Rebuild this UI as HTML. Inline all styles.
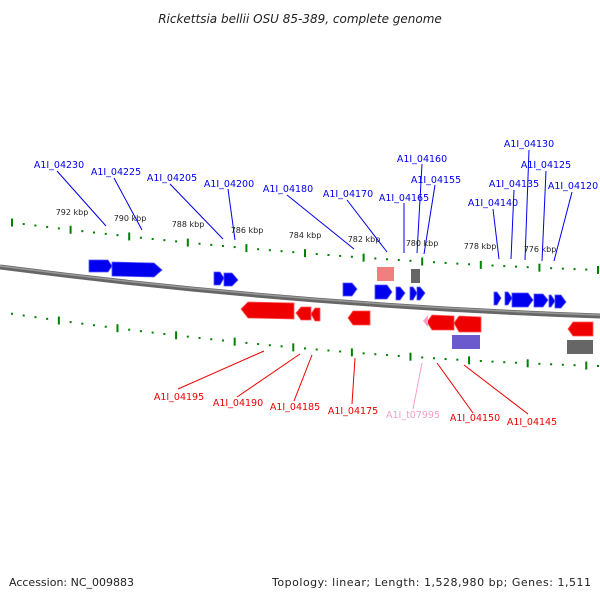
<!DOCTYPE html>
<html><head><meta charset="utf-8"><style>
html,body{margin:0;padding:0;background:#fff;width:600px;height:600px;overflow:hidden}
svg{display:block;font-family:"DejaVu Sans","Liberation Sans",sans-serif}
</style></head><body>
<svg id="s" width="600" height="600" viewBox="0 0 600 600" xmlns="http://www.w3.org/2000/svg">
<text x="300" y="23" font-size="12" font-style="italic" text-anchor="middle" fill="#222">Rickettsia bellii OSU 85-389, complete genome</text>
<path d="M0,267 Q300,306 600,316" stroke="#666" stroke-width="5" fill="none"/>
<path d="M0,266 Q300,305 600,315" stroke="#999" stroke-width="1.5" fill="none"/>
<g id="ticks"></g>
<g font-size="8" fill="#222" text-anchor="middle">
<text x="72" y="215">792 kbp</text><text x="130" y="221">790 kbp</text><text x="188" y="227">788 kbp</text><text x="247" y="233">786 kbp</text><text x="305" y="238">784 kbp</text><text x="364" y="242">782 kbp</text><text x="422" y="246">780 kbp</text><text x="480" y="249">778 kbp</text><text x="540" y="252">776 kbp</text>
</g>
<!-- blue genes -->
<g fill="#0000ee" stroke="#5555ff" stroke-width="0.8">
<polygon points="89,260 108,260 112,266 108,272 89,272"/>
<polygon points="112,262 154,263 162,270 154,277 112,276"/>
<polygon points="214,272 220,272 224,278 220,285 214,285"/>
<polygon points="224,273 232,273 238,280 232,286 224,286"/>
<polygon points="343,283 352,283 357,289 352,296 343,296"/>
<polygon points="375,285 387,285 392,292 387,299 375,299"/>
<polygon points="396,287 400,287 405,293 400,300 396,300"/>
<polygon points="410,287 413,287 417,293 413,300 410,300"/>
<polygon points="417,287 420,287 425,293 420,300 417,300"/>
<polygon points="494,292 497,292 501,298 497,305 494,305"/>
<polygon points="505,292 508,292 512,298 508,305 505,305"/>
<polygon points="512,293 528,293 533,300 528,307 512,307"/>
<polygon points="534,294 543,294 548,300 543,307 534,307"/>
<polygon points="549,295 551,295 555,301 551,307 549,307"/>
<polygon points="555,295 561,295 566,302 561,308 555,308"/>
</g>
<rect x="377" y="267" width="17" height="14" fill="#f08080"/>
<rect x="411" y="269" width="9" height="14" fill="#666"/>
<!-- red genes -->
<g fill="#ee0000" stroke="#ff5555" stroke-width="0.8">
<polygon points="241,309 248,302 294,303 294,319 248,318"/>
<polygon points="296,313 301,307 311,307 311,320 301,320"/>
<polygon points="311,314 315,308 320,308 320,321 315,321"/>
<polygon points="348,318 353,311 370,311 370,325 353,325"/>
<polygon points="427,322 432,315 454,316 454,330 432,330"/>
<polygon points="454,323 459,316 481,317 481,332 459,332"/>
<polygon points="568,329 573,322 593,322 593,336 573,336"/>
</g>
<polygon points="423,321 428,315 428,327" fill="#f4a0c8"/>
<rect x="452" y="335" width="28" height="14" fill="#6a5acd"/>
<rect x="567" y="340" width="26" height="14" fill="#666"/>
<!-- blue labels -->
<g stroke="#0000ee" stroke-width="1">
<line x1="57" y1="171" x2="106" y2="226"/>
<line x1="114" y1="178" x2="142" y2="230"/>
<line x1="170" y1="184" x2="223" y2="239"/>
<line x1="228" y1="189" x2="235" y2="240"/>
<line x1="287" y1="195" x2="354" y2="249"/>
<line x1="347" y1="200" x2="387" y2="252"/>
<line x1="404" y1="203" x2="404" y2="253"/>
<line x1="422" y1="164" x2="417" y2="253"/>
<line x1="435" y1="185" x2="424" y2="254"/>
<line x1="493" y1="209" x2="499" y2="259"/>
<line x1="514" y1="190" x2="511" y2="259"/>
<line x1="529" y1="150" x2="525" y2="260"/>
<line x1="546" y1="171" x2="542" y2="261"/>
<line x1="572" y1="192" x2="554" y2="261"/>
</g>
<g font-size="9.5" fill="#0000ee" text-anchor="middle">
<text x="59" y="168">A1I_04230</text><text x="116" y="175">A1I_04225</text><text x="172" y="181">A1I_04205</text><text x="229" y="187">A1I_04200</text><text x="288" y="192">A1I_04180</text><text x="348" y="197">A1I_04170</text><text x="404" y="201">A1I_04165</text><text x="422" y="162">A1I_04160</text><text x="436" y="183">A1I_04155</text><text x="493" y="206">A1I_04140</text><text x="514" y="187">A1I_04135</text><text x="529" y="147">A1I_04130</text><text x="546" y="168">A1I_04125</text><text x="573" y="189">A1I_04120</text>
</g>
<!-- red labels -->
<g stroke="#ee0000" stroke-width="1">
<line x1="264" y1="351" x2="178" y2="389"/>
<line x1="300" y1="354" x2="237" y2="397"/>
<line x1="312" y1="355" x2="294" y2="401"/>
<line x1="355" y1="358" x2="352" y2="404"/>
<line x1="437" y1="363" x2="473" y2="413"/>
<line x1="464" y1="365" x2="528" y2="414"/>
</g>
<line x1="422" y1="363" x2="413" y2="409" stroke="#f4a0c8"/>
<g font-size="9.5" fill="#ee0000" text-anchor="middle">
<text x="179" y="400">A1I_04195</text><text x="238" y="406">A1I_04190</text><text x="295" y="410">A1I_04185</text><text x="353" y="414">A1I_04175</text><text x="475" y="421">A1I_04150</text><text x="532" y="425">A1I_04145</text>
<text x="413" y="418" fill="#f4a0c8">A1I_t07995</text>
</g>
<text x="9" y="586" font-size="11" fill="#222">Accession: NC_009883</text>
<text x="591" y="586" font-size="11" fill="#222" text-anchor="end" textLength="319">Topology: linear; Length: 1,528,980 bp; Genes: 1,511</text>
</svg>
<script>
(function(){
var g=document.getElementById('ticks'),ns='http://www.w3.org/2000/svg';
function q(p0,c,p1,x){var t=(x-p0[0])/(p1[0]-p0[0]);var a=1-t;return a*a*p0[1]+2*a*t*c+t*t*p1[1];}
function line(x,y1,y2,w){var l=document.createElementNS(ns,'line');l.setAttribute('x1',x);l.setAttribute('x2',x);l.setAttribute('y1',y1);l.setAttribute('y2',y2);l.setAttribute('stroke','#008000');l.setAttribute('stroke-width',w);g.appendChild(l);}
var step=58.6/5;
for(var i=0;i<52;i++){var x=12+i*step;if(x>600)break;var y=q([0,221],260,[600,270],x);
 if(i%5==0)line(x,y-4,y+4,2);else line(x,y-1,y+1,2);}
for(var i=0;i<52;i++){var x=12+i*step;if(x>600)break;var y=q([0,312],357,[600,366],x);
 if(i%5==4)line(x,y-4,y+4,2);else line(x,y-1,y+1,2);}
})();
</script>
</body></html>
